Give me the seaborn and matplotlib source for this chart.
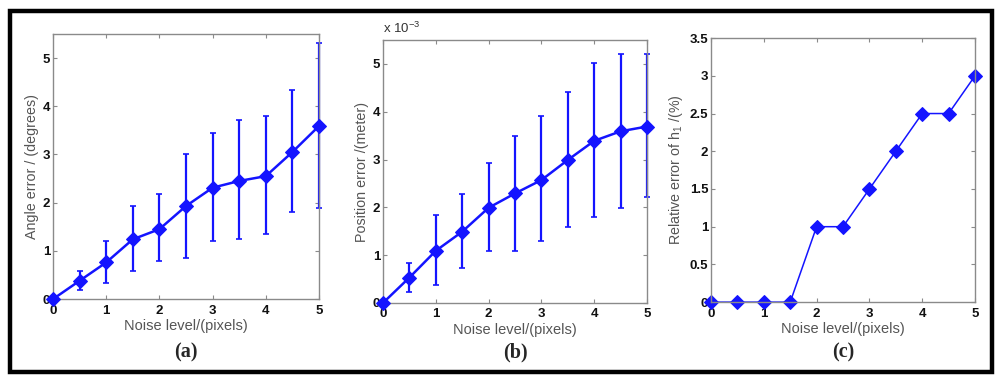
import numpy as np
import pandas as pd
import matplotlib
matplotlib.use("Agg")
import matplotlib.pyplot as plt
import seaborn as sns
from matplotlib.patches import Rectangle

# ---- data ----
noise = [0, 0.5, 1, 1.5, 2, 2.5, 3, 3.5, 4, 4.5, 5]

angle_mean = [0, 0.38, 0.76, 1.24, 1.45, 1.93, 2.31, 2.45, 2.55, 3.05, 3.59]
angle_upper = [0, 0.58, 1.21, 1.94, 2.18, 3.00, 3.45, 3.71, 3.80, 4.34, 5.32]
angle_lower = [0, 0.19, 0.34, 0.58, 0.78, 0.86, 1.21, 1.25, 1.34, 1.81, 1.89]

pos_mean = [0, 0.53, 1.09, 1.49, 1.99, 2.29, 2.57, 2.99, 3.39, 3.59, 3.69]   # x 10^-3 m
pos_upper = [0, 0.83, 1.83, 2.27, 2.92, 3.50, 3.92, 4.42, 5.01, 5.21, 5.21]
pos_lower = [0, 0.23, 0.37, 0.73, 1.09, 1.09, 1.29, 1.58, 1.79, 1.99, 2.21]

h1_rel = [0, 0, 0, 0, 1, 1, 1.5, 2, 2.5, 2.5, 3]

x_ticks = [0, 1, 2, 3, 4, 5]
ticks_a = [0, 1, 2, 3, 4, 5]
ticks_b = [0, 1, 2, 3, 4, 5]
ticks_c = [0, 0.5, 1, 1.5, 2, 2.5, 3, 3.5]
tick_labels_c = ["0", "0.5", "1", "1.5", "2", "2.5", "3", "3.5"]

xlabel = "Noise level/(pixels)"
ylabels = ["Angle error / (degrees)", "Position error /(meter)", "Relative error of h$_1$ /(%)"]
panel_labels = ["(a)", "(b)", "(c)"]

# ---- style ----
sns.set_theme(style="white")
plt.rcParams["font.family"] = ["Liberation Sans", "DejaVu Sans"]
plt.rcParams["mathtext.fontset"] = "custom"
plt.rcParams["mathtext.rm"] = "Liberation Sans"
plt.rcParams["mathtext.it"] = "Liberation Sans"

BLUE = "#1414ff"
SPINE = "#8a8a8a"
LABEL = "#555555"

fig = plt.figure(figsize=(10, 3.81), dpi=100)
fig.patch.set_facecolor("white")

positions = [
    [0.053, 0.215, 0.266, 0.696],
    [0.383, 0.205, 0.264, 0.690],
    [0.711, 0.207, 0.264, 0.693],
]
axes = [fig.add_axes(p) for p in positions]


def style_axis(ax, yticks, ylim, ytl=None):
    ax.set_xlim(0, 5)
    ax.set_ylim(*ylim)
    ax.set_xticks(x_ticks)
    ax.set_xticklabels([str(t) for t in x_ticks])
    ax.set_yticks(yticks)
    if ytl is not None:
        ax.set_yticklabels(ytl)
    else:
        ax.set_yticklabels([str(t) for t in yticks])
    for s in ax.spines.values():
        s.set_color(SPINE)
        s.set_linewidth(1.0)
        s.set_visible(True)
    ax.tick_params(direction="in", length=3, width=0.8, color=SPINE,
                   top=True, right=True, bottom=True, left=True,
                   labelsize=9.5, labelcolor="#111111", pad=2)
    ax.tick_params(axis="x", pad=4)
    for lab in ax.get_xticklabels() + ax.get_yticklabels():
        lab.set_fontweight("bold")
    ax.set_xlabel(xlabel, fontsize=10.5, color=LABEL, labelpad=2)
    ax.grid(False)


def draw_err(ax, mean, lower, upper):
    df = pd.DataFrame({"noise": noise, "value": mean})
    yerr = [np.array(mean) - np.array(lower), np.array(upper) - np.array(mean)]
    ax.errorbar(noise, mean, yerr=yerr, fmt="none", ecolor=BLUE,
                elinewidth=1.6, capsize=2.5, capthick=1.2, clip_on=False, zorder=2)
    sns.lineplot(data=df, x="noise", y="value", ax=ax, color=BLUE,
                 linewidth=1.8, marker="D", markersize=7.5,
                 markeredgecolor=BLUE, markerfacecolor=BLUE,
                 clip_on=False, zorder=3)


# (a)
draw_err(axes[0], angle_mean, angle_lower, angle_upper)
style_axis(axes[0], ticks_a, (0, 5.5))

# (b)
draw_err(axes[1], pos_mean, pos_lower, pos_upper)
style_axis(axes[1], ticks_b, (0, 5.5))
axes[1].text(0.0, 1.015, "x 10$^{-3}$", transform=axes[1].transAxes,
             fontsize=9.5, color="#333333", ha="left", va="bottom")

# (c)
dfc = pd.DataFrame({"noise": noise, "value": h1_rel})
sns.lineplot(data=dfc, x="noise", y="value", ax=axes[2], color=BLUE,
             linewidth=1.1, marker="D", markersize=7.5,
             markeredgecolor=BLUE, markerfacecolor=BLUE, clip_on=False)
style_axis(axes[2], ticks_c, (0, 3.5), tick_labels_c)

for ax, yl in zip(axes, ylabels):
    ax.set_ylabel(yl, fontsize=10.3, color=LABEL, labelpad=3)

# panel labels
for ax, pl in zip(axes, panel_labels):
    bb = ax.get_position()
    fig.text((bb.x0 + bb.x1) / 2, 29 / 381, pl, ha="center", va="center",
             fontsize=14.5, fontweight="bold", family="Liberation Serif")

# outer frame
fig.add_artist(Rectangle((0.010, 0.0236), 0.982, 0.9474, transform=fig.transFigure,
                         fill=False, edgecolor="black", linewidth=3.2))

fig.savefig("out.png", dpi=100, facecolor="white")
